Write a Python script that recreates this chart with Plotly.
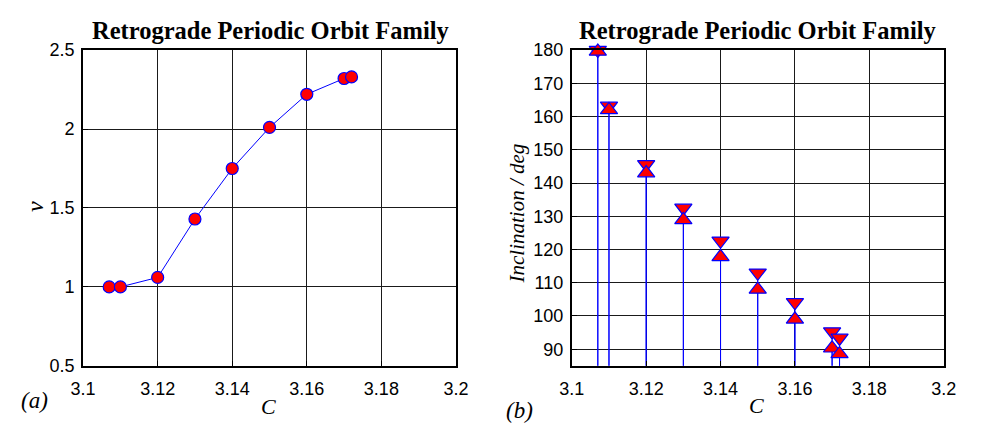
import plotly.graph_objects as go

# Jacobi constant of each family member
C_values = [3.107, 3.110, 3.12, 3.13, 3.14, 3.15, 3.16, 3.170, 3.172]
# stability index nu for panel (a)
nu_values = [1.0, 1.0, 1.06, 1.43, 1.75, 2.01, 2.22, 2.32, 2.33]
# inclination bounds (deg) for panel (b)
inc_upper = [180.0, 163.2, 145.6, 132.5, 122.6, 113.0, 104.1, 95.3, 93.4]
inc_lower = [179.6, 162.0, 143.0, 128.9, 117.8, 108.0, 99.0, 90.3, 88.6]
stem_base = 0.0

x_ticks = [3.1, 3.12, 3.14, 3.16, 3.18, 3.2]
x_ticktext = ["3.1", "3.12", "3.14", "3.16", "3.18", "3.2"]
nu_ticks = [0.5, 1, 1.5, 2, 2.5]
nu_ticktext = ["0.5", "1", "1.5", "2", "2.5"]
inc_ticks = [90, 100, 110, 120, 130, 140, 150, 160, 170, 180]

TITLE = "Retrograde Periodic Orbit Family"
W, H = 981, 435
BLUE = "#0000ff"
RED = "#ff0000"

fig = go.Figure()

# panel (a): nu versus C
fig.add_trace(go.Scatter(
    x=C_values, y=nu_values, mode="lines+markers",
    line=dict(color=BLUE, width=1),
    marker=dict(symbol="circle", size=12, color=RED,
                line=dict(color=BLUE, width=1.2)),
    xaxis="x", yaxis="y", showlegend=False, cliponaxis=False,
))


def stems(xs, ys):
    sx, sy = [], []
    for xv, yv in zip(xs, ys):
        sx += [xv, xv, None]
        sy += [stem_base, yv, None]
    return sx, sy


# panel (b): stem plots of the two inclination bounds
for vals in (inc_upper, inc_lower):
    sx, sy = stems(C_values, vals)
    fig.add_trace(go.Scatter(
        x=sx, y=sy, mode="lines", line=dict(color=BLUE, width=1),
        xaxis="x2", yaxis="y2", showlegend=False, hoverinfo="skip",
    ))
for vals, sym in ((inc_upper, "triangle-down"), (inc_lower, "triangle-up")):
    fig.add_trace(go.Scatter(
        x=C_values, y=vals, mode="markers",
        marker=dict(symbol=sym, size=15, color=RED,
                    line=dict(color=BLUE, width=1.2)),
        xaxis="x2", yaxis="y2", showlegend=False, cliponaxis=False,
    ))

tick_font = dict(family="Liberation Sans, Arial, sans-serif", size=18, color="black")
common = dict(
    showline=True, linecolor="black", linewidth=2, mirror=True,
    showgrid=True, gridcolor="#1a1a1a", gridwidth=1,
    ticks="inside", ticklen=5, tickcolor="black",
    tickfont=tick_font, zeroline=False, fixedrange=True,
)
xcommon = dict(common, ticklabelstandoff=6)
ycommon = dict(common, ticklabelstandoff=3)

ytop = 1 - 42 / H
ybot = 1 - 373 / H
fig.update_layout(
    width=W, height=H,
    margin=dict(l=0, r=0, t=0, b=0),
    paper_bgcolor="white", plot_bgcolor="white",
    xaxis=dict(domain=[72 / W, 455 / W], range=[3.1, 3.2],
               tickvals=x_ticks, ticktext=x_ticktext, anchor="y", **xcommon),
    yaxis=dict(domain=[ybot, ytop], range=[0.5, 2.5],
               tickvals=nu_ticks, ticktext=nu_ticktext, anchor="x", **ycommon),
    xaxis2=dict(domain=[574 / W, 956 / W], range=[3.1, 3.2],
                tickvals=x_ticks, ticktext=x_ticktext, anchor="y2", **xcommon),
    yaxis2=dict(domain=[ybot, ytop], range=[85, 180],
                tickvals=inc_ticks, anchor="x2", **ycommon),
)

serif = "Liberation Serif, Times New Roman, serif"
title_font = dict(family=serif, size=24.5, color="black")

annotations = [
    dict(text="<b>%s</b>" % TITLE, x=264 / W, y=1 - 21 / H, font=title_font),
    dict(text="<b>%s</b>" % TITLE, x=765 / W, y=1 - 21 / H, font=title_font),
    dict(text="<i>C</i>", x=262 / W, y=1 - 416 / H, font=dict(family=serif, size=22)),
    dict(text="<i>C</i>", x=764 / W, y=1 - 415 / H, font=dict(family=serif, size=22)),
    dict(text="<i>ν</i>", x=22 / W, y=1 - 206 / H, font=dict(family=serif, size=24),
         textangle=-90),
    dict(text="<i>Inclination / deg</i>", x=518 / W, y=1 - 213 / H,
         font=dict(family=serif, size=21), textangle=-90),
    dict(text="<i>(a)</i>", x=22 / W, y=1 - 409 / H, font=dict(family=serif, size=23)),
    dict(text="<i>(b)</i>", x=520 / W, y=1 - 420 / H, font=dict(family=serif, size=23)),
]
for a in annotations:
    a["font"]["color"] = "black"
    a.update(xref="paper", yref="paper", showarrow=False,
             xanchor="center", yanchor="middle")
fig.update_layout(annotations=annotations)

fig.write_html("out.html")
